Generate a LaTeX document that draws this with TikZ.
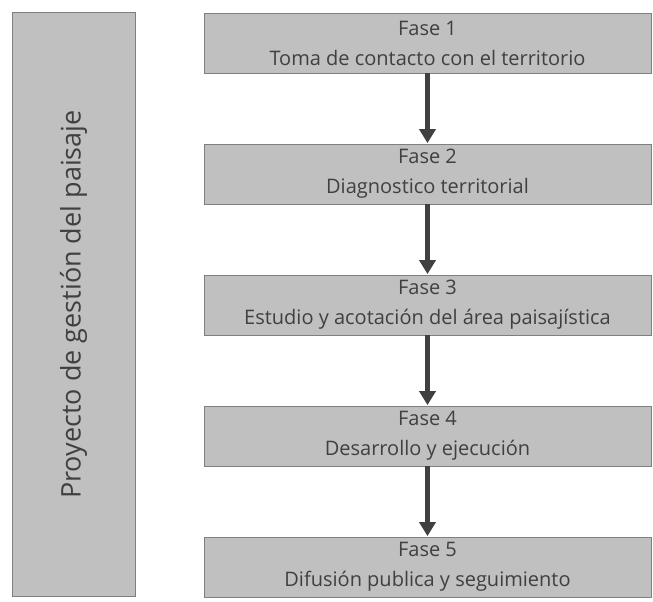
\documentclass[tikz,border=0pt]{standalone}
\usepackage{fontspec}
\setmainfont{Open Sans}
\usetikzlibrary{arrows.meta}
\definecolor{boxfill}{HTML}{C0C0C0}
\definecolor{boxline}{HTML}{7F7F7F}
\definecolor{txt}{HTML}{404040}
\definecolor{arr}{HTML}{404040}
\begin{document}
\begin{tikzpicture}[x=1pt,y=-1pt,
  phase/.style={draw=boxline,fill=boxfill,line width=0.8pt,minimum width=447pt,minimum height=60pt,
    text=txt,align=center,font=\fontsize{20}{30}\selectfont,inner sep=0pt},
  flow/.style={draw=arr,line width=4.5pt,-{Triangle[length=14pt,width=16pt]},shorten >=0.5pt}]
\useasboundingbox (0,0) rectangle (653,602);
\node[draw=boxline,fill=boxfill,line width=0.8pt,minimum width=123pt,minimum height=584pt,inner sep=0pt] (side) at (73.5,304.5) {};
\node[rotate=90,text=txt,font=\fontsize{27}{32}\selectfont] (sidetxt) at (side.center) {Proyecto de gestión del paisaje};
\node[phase] (f1) at (427.5,43) {Fase 1\\Toma de contacto con el territorio};
\node[phase] (f2) at (427.5,174) {Fase 2\\Diagnostico territorial};
\node[phase] (f3) at (427.5,305) {Fase 3\\Estudio y acotación del área paisajística};
\node[phase] (f4) at (427.5,436) {Fase 4\\Desarrollo y ejecución};
\node[phase] (f5) at (427.5,567) {Fase 5\\Difusión publica y seguimiento};
\draw[flow] (f1.south) -- (f2.north);
\draw[flow] (f2.south) -- (f3.north);
\draw[flow] (f3.south) -- (f4.north);
\draw[flow] (f4.south) -- (f5.north);
\end{tikzpicture}
\end{document}
